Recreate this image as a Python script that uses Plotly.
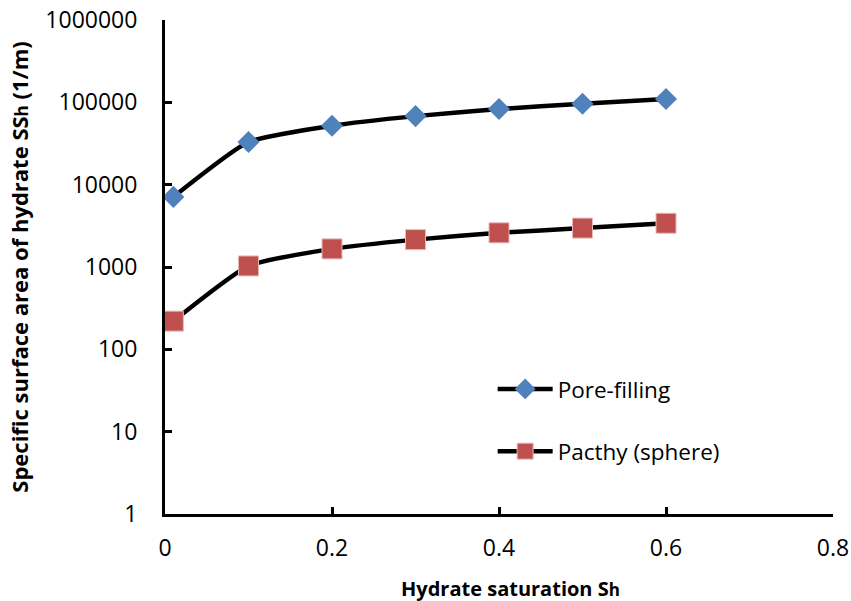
import plotly.graph_objects as go

x_vals = [0.01, 0.1, 0.2, 0.3, 0.4, 0.5, 0.6]
pore_filling = [7100, 33000, 52000, 68000, 83000, 96000, 110000]
patchy_sphere = [220, 1030, 1660, 2150, 2600, 2970, 3400]

y_tickvals = [1, 10, 100, 1000, 10000, 100000, 1000000]
y_ticktext = ["1", "10", "100", "1000", "10000", "100000", "1000000"]
x_tickvals = [0, 0.2, 0.4, 0.6, 0.8]
x_ticktext = ["0", "0.2", "0.4", "0.6", "0.8"]

FONT = "'Open Sans', 'Noto Sans', sans-serif"

fig = go.Figure()
fig.add_trace(go.Scatter(
    x=x_vals, y=pore_filling, name="Pore-filling", legendgroup="a",
    mode="lines+markers",
    line=dict(color="black", width=4.5, shape="spline", smoothing=0.5),
    marker=dict(symbol="diamond", size=17, color="#4F81BD",
                line=dict(color="#4F81BD", width=0)),
))
fig.add_trace(go.Scatter(
    x=x_vals, y=patchy_sphere, name="Pacthy (sphere)", legendgroup="b",
    mode="lines+markers",
    line=dict(color="black", width=4.5, shape="spline", smoothing=0.5),
    marker=dict(symbol="square", size=20, color="#C0504D",
                line=dict(color="#E6B9B8", width=1)),
))

fig.update_layout(
    width=851, height=601,
    margin=dict(l=165, r=18, t=20, b=87),
    paper_bgcolor="white", plot_bgcolor="white",
    font=dict(family=FONT, size=23, color="black"),
    showlegend=True,
    legend=dict(x=0.4905, y=0.296, xanchor="left", yanchor="top",
                bgcolor="rgba(0,0,0,0)", font=dict(size=22.5, family=FONT),
                tracegroupgap=30, itemwidth=55),
    xaxis=dict(
        range=[0, 0.8], tickvals=x_tickvals, ticktext=x_ticktext,
        showgrid=False, zeroline=False, showline=True, linecolor="black",
        linewidth=3, ticks="inside", ticklen=7, tickwidth=3, tickcolor="black",
        ticklabelstandoff=11, automargin=False, tickfont=dict(size=23),
    ),
    yaxis=dict(
        type="log", range=[0, 6], tickvals=y_tickvals, ticktext=y_ticktext,
        showgrid=False, zeroline=False, showline=True, linecolor="black",
        linewidth=3, ticks="inside", ticklen=7, tickwidth=3, tickcolor="black",
        ticklabelstandoff=20, automargin=False, tickfont=dict(size=23),
        title=dict(text="<b>Specific surface area of hydrate SS<span style='font-size:17px'>h</span> (1/m)</b>",
                   font=dict(size=22, family=FONT), standoff=11),
    ),
    annotations=[dict(
        text="<b>Hydrate saturation S<span style='font-size:17px'>h</span></b>",
        xref="paper", yref="paper", x=0.5165, y=-0.15,
        xanchor="center", yanchor="middle", showarrow=False,
        font=dict(size=20, family=FONT, color="black"),
    )],
)

fig.write_html("out.html")
